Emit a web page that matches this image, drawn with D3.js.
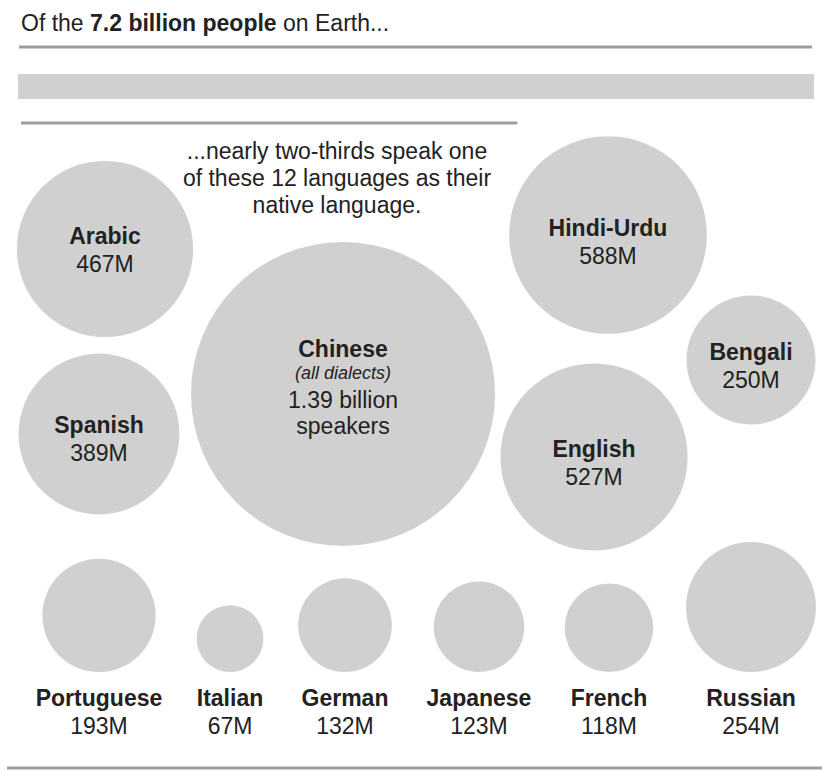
<!DOCTYPE html>
<html>
<head>
<meta charset="utf-8">
<script src="https://cdn.jsdelivr.net/npm/d3@7"></script>
<style>
  body { margin: 0; background: #fff; }
  svg { display: block; font-family: "Liberation Sans", Arial, Helvetica, sans-serif; }
</style>
</head>
<body>
<div id="chart"></div>
<script>
// Data: native speakers, millions
const worldPopulation = 7200;
const clusterLangs = ["Arabic", "Spanish", "Chinese", "Hindi-Urdu", "Bengali", "English"];
const clusterSpeakers = [467, 389, 1390, 588, 250, 527];
const clusterValueLabels = ["467M", "389M", "1.39 billion", "588M", "250M", "527M"];
const rowLangs = ["Portuguese", "Italian", "German", "Japanese", "French", "Russian"];
const rowSpeakers = [193, 67, 132, 123, 118, 254];
const rowValueLabels = ["193M", "67M", "132M", "123M", "118M", "254M"];

// Layout (hand placed bubble positions, label nudge)
const clusterCenters = [[105, 249], [99, 434], [343, 394], [608, 235], [751, 360], [594, 457]];
const clusterLabelShift = [-5, -1, 0, 1, 0, 0];
const rowX = [99, 230, 345, 479, 609, 751];
const rowBottom = 672;

const width = 822;
const height = 772;
const textColor = "#222";
const bubbleColor = "#d0d0d0";
const ruleColor = "#9e9e9e";

const svg = d3.select("#chart")
  .append("svg")
  .attr("width", width)
  .attr("height", height);

// Scales
const r = d3.scaleSqrt().domain([0, 1390]).range([0, 152]);
const x = d3.scaleLinear().domain([0, worldPopulation]).range([18, 814]);
const totalTop12 = d3.sum(clusterSpeakers) + d3.sum(rowSpeakers);

// Headline
const title = svg.append("text")
  .attr("x", 21)
  .attr("y", 31)
  .attr("font-size", 23)
  .attr("fill", textColor);
title.append("tspan").text("Of the ");
title.append("tspan").attr("font-weight", "bold").text("7.2 billion people");
title.append("tspan").text(" on Earth...");

svg.append("line")
  .attr("x1", 19).attr("x2", 812)
  .attr("y1", 47).attr("y2", 47)
  .attr("stroke", ruleColor)
  .attr("stroke-width", 3);

// World population bar and the share of the 12 languages
svg.append("rect")
  .attr("x", x(0))
  .attr("y", 74)
  .attr("width", x(worldPopulation) - x(0))
  .attr("height", 25)
  .attr("fill", bubbleColor);

svg.append("line")
  .attr("x1", x(0) + 3).attr("x2", x(totalTop12) + 2)
  .attr("y1", 123).attr("y2", 123)
  .attr("stroke", ruleColor)
  .attr("stroke-width", 3);

// Subtitle
const sub = ["...nearly two-thirds speak one", "of these 12 languages as their", "native language."];
svg.append("g").selectAll("text")
  .data(sub)
  .enter().append("text")
  .attr("x", 337)
  .attr("y", (d, i) => 159 + i * 27)
  .attr("text-anchor", "middle")
  .attr("font-size", 23)
  .attr("fill", textColor)
  .text(d => d);

// Cluster bubbles
const cluster = clusterLangs.map((name, i) => ({
  name: name,
  value: clusterSpeakers[i],
  label: clusterValueLabels[i],
  cx: clusterCenters[i][0],
  cy: clusterCenters[i][1],
  ty: clusterCenters[i][1] + clusterLabelShift[i]
}));

const cg = svg.append("g").selectAll("g")
  .data(cluster)
  .enter().append("g");

cg.append("circle")
  .attr("cx", d => d.cx)
  .attr("cy", d => d.cy)
  .attr("r", d => r(d.value))
  .attr("fill", bubbleColor);

cg.each(function(d) {
  const g = d3.select(this);
  if (d.name === "Chinese") {
    g.append("text").attr("x", d.cx).attr("y", d.ty - 37)
      .attr("text-anchor", "middle").attr("font-size", 23).attr("font-weight", "bold")
      .attr("fill", textColor).text(d.name);
    g.append("text").attr("x", d.cx).attr("y", d.ty - 15)
      .attr("text-anchor", "middle").attr("font-size", 18).attr("font-style", "italic")
      .attr("fill", textColor).text("(all dialects)");
    g.append("text").attr("x", d.cx).attr("y", d.ty + 14)
      .attr("text-anchor", "middle").attr("font-size", 23)
      .attr("fill", textColor).text(d.label);
    g.append("text").attr("x", d.cx).attr("y", d.ty + 40)
      .attr("text-anchor", "middle").attr("font-size", 23)
      .attr("fill", textColor).text("speakers");
  } else {
    g.append("text").attr("x", d.cx).attr("y", d.ty)
      .attr("text-anchor", "middle").attr("font-size", 23).attr("font-weight", "bold")
      .attr("fill", textColor).text(d.name);
    g.append("text").attr("x", d.cx).attr("y", d.ty + 28)
      .attr("text-anchor", "middle").attr("font-size", 23)
      .attr("fill", textColor).text(d.label);
  }
});

// Bottom row, bubbles sit on a common baseline
const row = rowLangs.map((name, i) => ({
  name: name,
  value: rowSpeakers[i],
  label: rowValueLabels[i],
  cx: rowX[i]
}));

const rg = svg.append("g").selectAll("g")
  .data(row)
  .enter().append("g");

rg.append("circle")
  .attr("cx", d => d.cx)
  .attr("cy", d => rowBottom - r(d.value))
  .attr("r", d => r(d.value))
  .attr("fill", bubbleColor);

rg.append("text")
  .attr("x", d => d.cx)
  .attr("y", 706)
  .attr("text-anchor", "middle")
  .attr("font-size", 23)
  .attr("font-weight", "bold")
  .attr("fill", textColor)
  .text(d => d.name);

rg.append("text")
  .attr("x", d => d.cx)
  .attr("y", 734)
  .attr("text-anchor", "middle")
  .attr("font-size", 23)
  .attr("fill", textColor)
  .text(d => d.label);

// Bottom rule
svg.append("line")
  .attr("x1", 7).attr("x2", width)
  .attr("y1", 768).attr("y2", 768)
  .attr("stroke", ruleColor)
  .attr("stroke-width", 3);
</script>
</body>
</html>
